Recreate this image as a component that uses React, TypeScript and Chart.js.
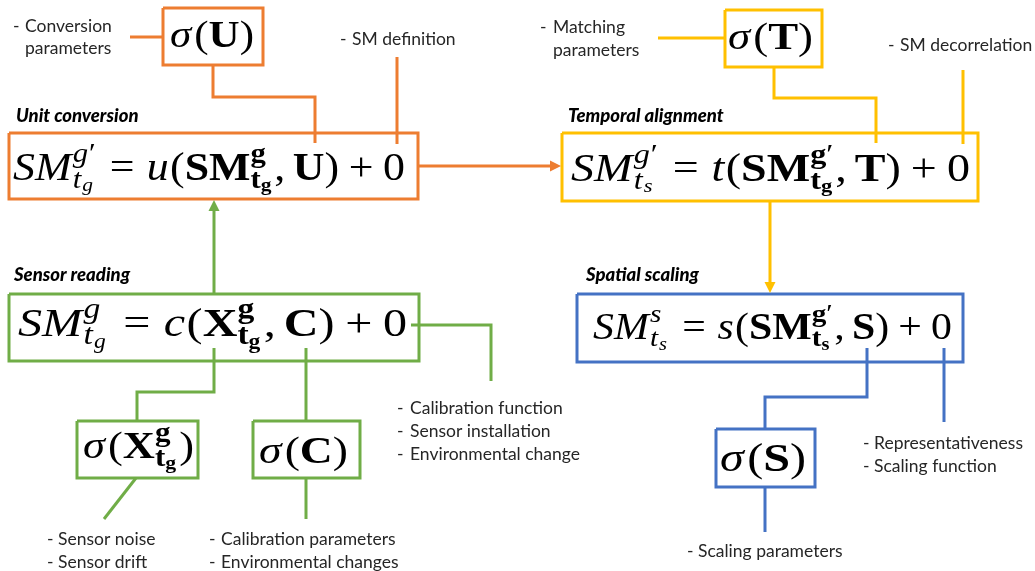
import React, { useEffect, useRef } from 'react';
import { Chart, registerables } from 'chart.js';
Chart.register(...registerables);

type Tok = { s: string; f: 'i' | 'r' | 'b' } | { sp: number } | { sup?: Tok[]; sub?: Tok[] };

// ---------- diagram data (diagram units = page pixels) ----------
const boxGroups = ['o', 'o', 'y', 'y', 'g', 'g', 'g', 'b', 'b'];
const boxRects = [
  [163, 8, 263, 65],    // sigma(U)
  [9, 133, 418, 199],   // unit conversion
  [725, 10, 822, 67],   // sigma(T)
  [562, 133, 978, 201], // temporal alignment
  [9, 294, 419, 361],   // sensor reading
  [77, 421, 198, 478],  // sigma(X)
  [253, 421, 360, 478], // sigma(C)
  [577, 294, 963, 362], // spatial scaling
  [716, 429, 815, 487], // sigma(S)
];

const connectorGroups = ['o', 'o', 'o', 'y', 'y', 'y', 'g', 'g', 'g', 'g', 'g', 'b', 'b', 'b'];
const connectorPaths = [
  [[130, 37], [163, 37]],
  [[213, 65], [213, 97], [315, 97], [315, 143]],
  [[397, 57], [397, 144]],
  [[658, 38], [725, 38]],
  [[774, 67], [774, 98], [876, 98], [876, 143]],
  [[963, 70], [963, 144]],
  [[411, 325], [491, 325], [491, 381]],
  [[214, 348], [214, 392], [137, 392], [137, 421]],
  [[136, 478], [104, 519]],
  [[306, 348], [306, 421]],
  [[306, 478], [306, 519]],
  [[867, 348], [867, 397], [765, 397], [765, 429]],
  [[765, 487], [765, 532]],
  [[944, 348], [944, 422]],
];

const arrowGroups = ['o', 'y', 'g'];
const arrowPaths = [
  [[418, 166], [561, 166]],
  [[770, 201], [770, 293]],
  [[214, 294], [214, 200]],
];

const titleTexts = ['Unit conversion', 'Temporal alignment', 'Sensor reading', 'Spatial scaling'];
const titlePos = [[16, 116], [568, 116], [14, 275], [586, 275]];

const noteTexts = [
  '- |Conversion', '|parameters', '- |SM definition',
  '- |Matching', '|parameters', '- |SM decorrelation',
  '- |Calibration function', '- |Sensor installation', '- |Environmental change',
  '- |Sensor noise', '- |Sensor drift',
  '- |Calibration parameters', '- |Environmental changes',
  '- |Representativeness', '- |Scaling function',
  '- |Scaling parameters',
];
const notePos = [
  [13, 25, 26], [13, 25, 48], [340, 352, 39],
  [540, 553, 27], [540, 553, 50], [888, 900, 45],
  [397, 410, 408], [397, 410, 431], [397, 410, 454],
  [47, 58, 539], [47, 58, 562],
  [209, 221, 539], [209, 221, 562],
  [863, 874, 443], [863, 874, 466],
  [687, 698, 551],
];

const gP: Tok[] = [{ s: 'g', f: 'i' }, { s: '′', f: 'r' }];
const gPb: Tok[] = [{ s: 'g', f: 'b' }, { s: '′', f: 'r' }];
const tg: Tok[] = [{ s: 't', f: 'i' }, { sub: [{ s: 'g', f: 'i' }] }];
const ts: Tok[] = [{ s: 't', f: 'i' }, { sub: [{ s: 's', f: 'i' }] }];
const tgB: Tok[] = [{ s: 't', f: 'b' }, { sub: [{ s: 'g', f: 'b' }] }];
const tsB: Tok[] = [{ s: 't', f: 'b' }, { sub: [{ s: 's', f: 'b' }] }];
const eqTail = (v: string): Tok[] => [{ s: ',', f: 'r' }, { sp: 0.17 }, { s: v, f: 'b' }, { s: ')', f: 'r' }, { sp: 0.22 }, { s: '+', f: 'r' }, { sp: 0.22 }, { s: '0', f: 'r' }];
const eqMid = (fn: string): Tok[] => [{ sp: 0.28 }, { s: '=', f: 'r' }, { sp: 0.28 }, { s: fn, f: 'i' }, { s: '(', f: 'r' }];

const equations: Tok[][] = [
  [{ s: 'SM', f: 'i' }, { sup: gP, sub: tg }, ...eqMid('u'), { s: 'SM', f: 'b' }, { sup: [{ s: 'g', f: 'b' }], sub: tgB }, ...eqTail('U')],
  [{ s: 'SM', f: 'i' }, { sup: gP, sub: ts }, ...eqMid('t'), { s: 'SM', f: 'b' }, { sup: gPb, sub: tgB }, ...eqTail('T')],
  [{ s: 'SM', f: 'i' }, { sup: [{ s: 'g', f: 'i' }], sub: tg }, ...eqMid('c'), { s: 'X', f: 'b' }, { sup: [{ s: 'g', f: 'b' }], sub: tgB }, ...eqTail('C')],
  [{ s: 'SM', f: 'i' }, { sup: [{ s: 's', f: 'i' }], sub: ts }, ...eqMid('s'), { s: 'SM', f: 'b' }, { sup: gPb, sub: tsB }, ...eqTail('S')],
  [{ s: 'σ', f: 'i' }, { sp: 0.04 }, { s: '(', f: 'r' }, { s: 'U', f: 'b' }, { s: ')', f: 'r' }],
  [{ s: 'σ', f: 'i' }, { sp: 0.04 }, { s: '(', f: 'r' }, { s: 'T', f: 'b' }, { s: ')', f: 'r' }],
  [{ s: 'σ', f: 'i' }, { sp: 0.04 }, { s: '(', f: 'r' }, { s: 'X', f: 'b' }, { sup: [{ s: 'g', f: 'b' }], sub: tgB }, { s: ')', f: 'r' }],
  [{ s: 'σ', f: 'i' }, { sp: 0.04 }, { s: '(', f: 'r' }, { s: 'C', f: 'b' }, { s: ')', f: 'r' }],
  [{ s: 'σ', f: 'i' }, { sp: 0.04 }, { s: '(', f: 'r' }, { s: 'S', f: 'b' }, { s: ')', f: 'r' }],
];
// [left, right, baseline]
const equationSpans = [
  [13, 405, 180], [571, 970, 181], [18, 407, 336], [593, 952, 339],
  [170, 254, 47], [728, 813, 49], [83, 194, 458], [259, 348, 463], [720, 806, 471],
];
const equationSizes = [40, 40, 41, 37, 38, 38, 38, 38, 40];

// ---------- styles ----------
const palette: Record<string, string> = { o: '#ED7D31', y: '#FFC000', g: '#70AD47', b: '#4472C4' };
const MATH_FONT = '"Liberation Serif", "DejaVu Serif", serif';
const LABEL_FONT = 'Lato, "Open Sans", sans-serif';

function mathFont(f: string, size: number) {
  return `${f === 'i' ? 'italic ' : ''}${f === 'b' ? 'bold ' : ''}${size}px ${MATH_FONT}`;
}

function renderMath(ctx: CanvasRenderingContext2D, toks: Tok[], x: number, y: number, size: number, draw: boolean): number {
  let cx = x;
  for (const t of toks as any[]) {
    if ('s' in t) {
      ctx.font = mathFont(t.f, size);
      const w = ctx.measureText(t.s).width;
      if (draw) ctx.fillText(t.s, cx, y);
      cx += w + (t.f === 'i' ? size * 0.03 : 0);
    } else if ('sp' in t) {
      cx += t.sp * size;
    } else {
      const ss = size * 0.7;
      let w = 0;
      if (t.sup) w = Math.max(w, renderMath(ctx, t.sup, cx, y - size * 0.45, ss, draw));
      if (t.sub) w = Math.max(w, renderMath(ctx, t.sub, cx, y + size * (t.sup ? 0.2 : 0.12), ss, draw));
      cx += w + size * 0.04;
    }
  }
  return cx - x;
}

const diagramPlugin = {
  id: 'diagramText',
  afterDatasetsDraw(chart: any) {
    const ctx: CanvasRenderingContext2D = chart.ctx;
    const X = (v: number) => chart.scales.x.getPixelForValue(v);
    const Y = (v: number) => chart.scales.y.getPixelForValue(v);
    ctx.save();
    // arrow heads
    arrowPaths.forEach((p, i) => {
      const [a, b] = [p[p.length - 2], p[p.length - 1]];
      const x1 = X(b[0]), y1 = Y(b[1]);
      const ang = Math.atan2(y1 - Y(a[1]), x1 - X(a[0]));
      const L = 11, H = 5.5;
      ctx.fillStyle = palette[arrowGroups[i]];
      ctx.beginPath();
      ctx.moveTo(x1, y1);
      ctx.lineTo(x1 - L * Math.cos(ang) + H * Math.sin(ang), y1 - L * Math.sin(ang) - H * Math.cos(ang));
      ctx.lineTo(x1 - L * Math.cos(ang) - H * Math.sin(ang), y1 - L * Math.sin(ang) + H * Math.cos(ang));
      ctx.closePath();
      ctx.fill();
    });
    // titles
    ctx.fillStyle = '#000';
    ctx.textBaseline = 'middle';
    ctx.font = `italic 900 18.5px ${LABEL_FONT}`;
    titleTexts.forEach((t, i) => ctx.fillText(t, X(titlePos[i][0]), Y(titlePos[i][1])));
    // notes
    ctx.fillStyle = '#262626';
    ctx.font = `17.5px ${LABEL_FONT}`;
    noteTexts.forEach((t, i) => {
      const [dash, txt] = t.split('|');
      const [dx, tx, ty] = notePos[i];
      if (dash.trim()) ctx.fillText(dash.trim(), X(dx), Y(ty));
      ctx.fillText(txt, X(tx), Y(ty));
    });
    // equations
    ctx.fillStyle = '#000';
    ctx.textBaseline = 'alphabetic';
    equations.forEach((eq, i) => {
      const [l, r, base] = equationSpans[i];
      const size = equationSizes[i];
      const w0 = renderMath(ctx, eq, 0, 0, size, false);
      const sx = (X(r) - X(l)) / w0;
      ctx.save();
      ctx.translate(X(l), Y(base));
      ctx.scale(sx, 1);
      renderMath(ctx, eq, 0, 0, size, true);
      ctx.restore();
    });
    ctx.restore();
  },
};

export default function App() {
  const ref = useRef<HTMLCanvasElement | null>(null);
  useEffect(() => {
    if (!ref.current) return;
    const line = (pts: number[][], color: string, w: number) => ({
      data: pts.map(([x, y]) => ({ x, y })),
      showLine: true,
      borderColor: color,
      backgroundColor: color,
      borderWidth: w,
      pointRadius: 0,
      fill: false,
      tension: 0,
      borderJoinStyle: 'miter' as const,
      borderCapStyle: 'butt' as const,
      clip: false as any,
    });
    const datasets: any[] = [];
    boxRects.forEach(([x0, y0, x1, y1], i) =>
      datasets.push(line([[x0, y0], [x1, y0], [x1, y1], [x0, y1], [x0, y0]], palette[boxGroups[i]], 3)));
    connectorPaths.forEach((p, i) => datasets.push(line(p, palette[connectorGroups[i]], 3)));
    arrowPaths.forEach((p, i) => {
      const pts = p.map((q) => [...q]);
      const n = pts.length;
      const dx = Math.sign(pts[n - 1][0] - pts[n - 2][0]);
      const dy = Math.sign(pts[n - 1][1] - pts[n - 2][1]);
      pts[n - 1] = [pts[n - 1][0] - dx * 8, pts[n - 1][1] - dy * 8];
      datasets.push(line(pts, palette[arrowGroups[i]], 3));
    });
    const chart = new Chart(ref.current, {
      type: 'scatter',
      data: { datasets },
      options: {
        animation: false,
        responsive: false,
        events: [],
        layout: { padding: 0 },
        plugins: { legend: { display: false }, tooltip: { enabled: false } },
        scales: {
          x: { type: 'linear', min: 0, max: 1035, display: false },
          y: { type: 'linear', min: 0, max: 571, reverse: true, display: false },
        },
      },
      plugins: [diagramPlugin],
    } as any);
    return () => chart.destroy();
  }, []);
  return (
    <div style={{ position: 'absolute', left: 0, top: 0, width: 1035, height: 571, background: '#fff' }}>
      <canvas ref={ref} width={1035} height={571} style={{ display: 'block' }} />
    </div>
  );
}
